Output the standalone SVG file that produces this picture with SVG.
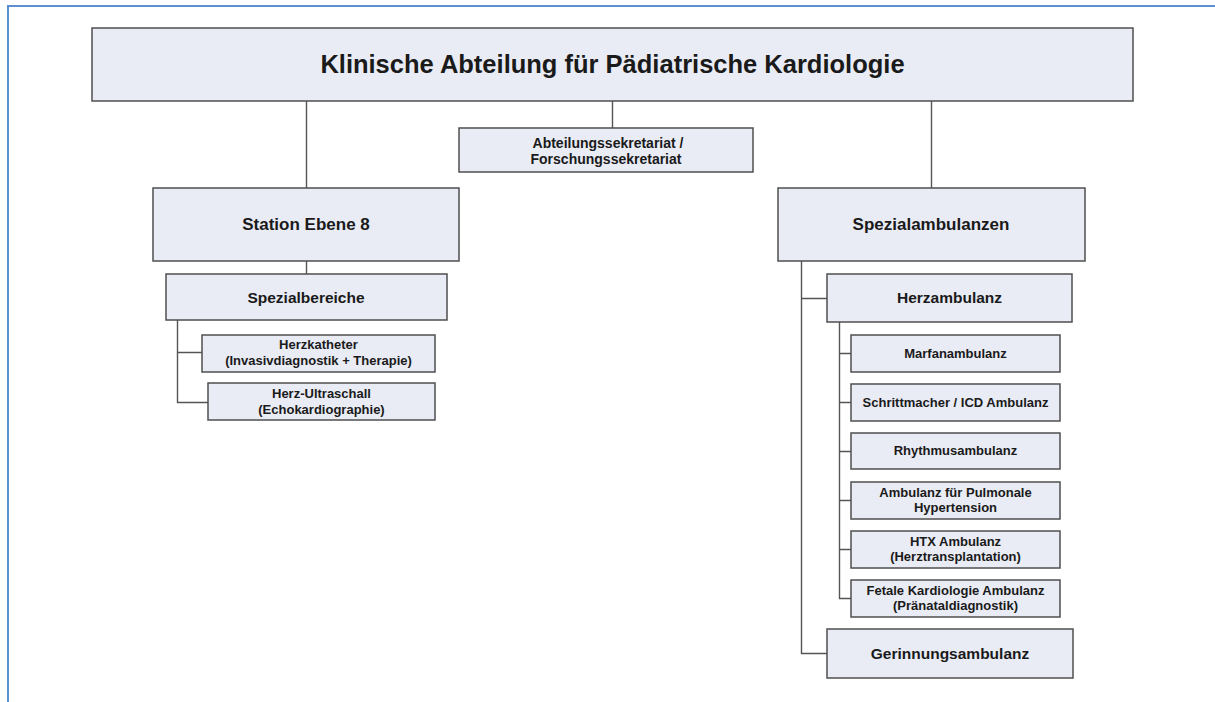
<svg xmlns="http://www.w3.org/2000/svg" width="1215" height="702" viewBox="0 0 1215 702">
<style>
.box{fill:#e9ecf5;stroke:#4f4f4f;stroke-width:1.5}
.t{font-family:"Liberation Sans",Arial,sans-serif;font-weight:bold;fill:#1a1a1a;text-anchor:middle}
.c{stroke:#555;stroke-width:1.4;fill:none}
.frame{stroke:#5b8fd0;stroke-width:2;fill:none}
</style>
<rect width="1215" height="702" fill="#ffffff"/>
<path class="frame" d="M8,702 V6 H1215"/>
<g id="connectors">
<path class="c" d="M306.5,101 V188 M612.5,101 V128 M931.5,101 V188"/>
<path class="c" d="M306.5,261 V274"/>
<path class="c" d="M177.5,320 V402.5 H208 M177.5,352.5 H202"/>
<path class="c" d="M801.5,261 V653.5 H827 M801.5,298.5 H827"/>
<path class="c" d="M839.5,322 V598.5 H851 M839.5,353.5 H851 M839.5,402.5 H851 M839.5,451.5 H851 M839.5,500.5 H851 M839.5,549.5 H851"/>
</g>
<g id="title"><rect class="box" x="92" y="28" width="1041" height="73"/><text class="t" x="612.5" y="73" font-size="25.5">Klinische Abteilung für Pädiatrische Kardiologie</text></g>
<g id="sekretariat"><rect class="box" x="459" y="128" width="294" height="44"/><text class="t" x="608" y="148" font-size="14">Abteilungssekretariat /</text><text class="t" x="606" y="164" font-size="14">Forschungssekretariat</text></g>
<g id="station"><rect class="box" x="153" y="188" width="306" height="73"/><text class="t" x="306" y="230" font-size="17">Station Ebene 8</text></g>
<g id="spezialbereiche"><rect class="box" x="166" y="274" width="281" height="46"/><text class="t" x="306" y="303" font-size="15.5">Spezialbereiche</text></g>
<g id="herzkatheter"><rect class="box" x="202" y="335" width="233" height="37"/><text class="t" x="318.5" y="349" font-size="13">Herzkatheter</text><text class="t" x="318.5" y="364.5" font-size="13">(Invasivdiagnostik + Therapie)</text></g>
<g id="ultraschall"><rect class="box" x="208" y="383" width="227" height="37"/><text class="t" x="321.5" y="398" font-size="13">Herz-Ultraschall</text><text class="t" x="321.5" y="413.5" font-size="13">(Echokardiographie)</text></g>
<g id="spezialambulanzen"><rect class="box" x="778" y="188" width="307" height="73"/><text class="t" x="931" y="230" font-size="17">Spezialambulanzen</text></g>
<g id="herzambulanz"><rect class="box" x="827" y="274" width="245" height="48"/><text class="t" x="949.5" y="303" font-size="15.5">Herzambulanz</text></g>
<g id="marfan"><rect class="box" x="851" y="335" width="209" height="37"/><text class="t" x="955.5" y="358" font-size="13">Marfanambulanz</text></g>
<g id="schrittmacher"><rect class="box" x="851" y="384" width="209" height="37"/><text class="t" x="955.5" y="406.5" font-size="13">Schrittmacher / ICD Ambulanz</text></g>
<g id="rhythmus"><rect class="box" x="851" y="433" width="209" height="36"/><text class="t" x="955.5" y="455" font-size="13">Rhythmusambulanz</text></g>
<g id="pulmonale"><rect class="box" x="851" y="482" width="209" height="37"/><text class="t" x="955.5" y="497" font-size="13">Ambulanz für Pulmonale</text><text class="t" x="955.5" y="512" font-size="13">Hypertension</text></g>
<g id="htx"><rect class="box" x="851" y="531" width="209" height="37"/><text class="t" x="955.5" y="546" font-size="13">HTX Ambulanz</text><text class="t" x="955.5" y="561" font-size="13">(Herztransplantation)</text></g>
<g id="fetale"><rect class="box" x="851" y="580" width="209" height="37"/><text class="t" x="955.5" y="594.5" font-size="13">Fetale Kardiologie Ambulanz</text><text class="t" x="955.5" y="609.5" font-size="13">(Pränataldiagnostik)</text></g>
<g id="gerinnung"><rect class="box" x="827" y="629" width="246" height="49"/><text class="t" x="950" y="659" font-size="15.5">Gerinnungsambulanz</text></g>
</svg>
